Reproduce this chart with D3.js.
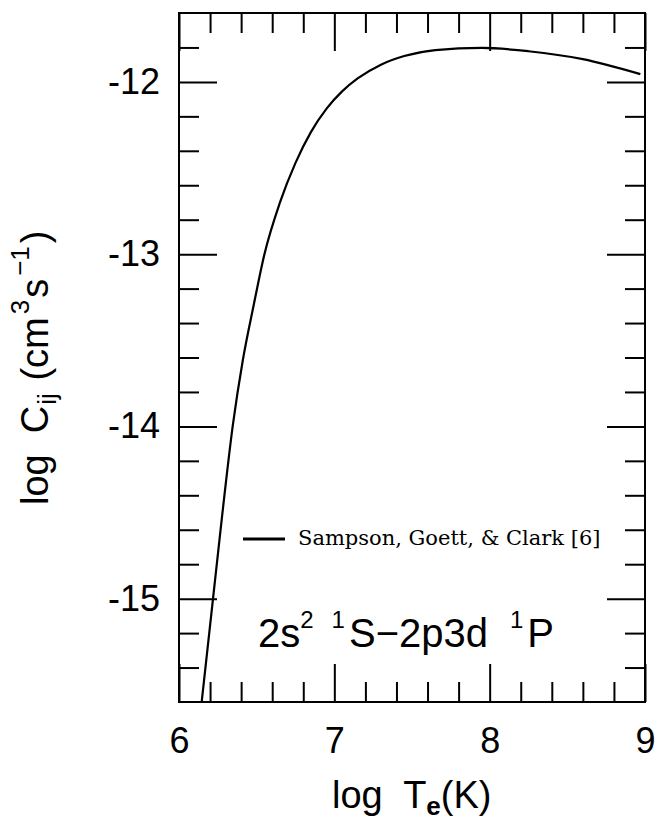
<!DOCTYPE html>
<html>
<head>
<meta charset="utf-8">
<script src="https://cdn.jsdelivr.net/npm/d3@7"></script>
<style>
  body { margin: 0; background: #fff; }
  .tick line { stroke: #000; stroke-width: 2; }
  .axis path.domain { display: none; }
  .ticklab text { font-family: "Liberation Sans", Arial, sans-serif; font-size: 36px; fill: #000; }
  .axislabel { font-family: "Liberation Sans", Arial, sans-serif; font-size: 38px; fill: #000; white-space: pre; }
  .legend_text { font-family: "DejaVu Serif", serif; font-size: 21px; fill: #000; }
</style>
</head>
<body>
<div id="chart"></div>
<script>
// log T_e (K) and log C_ij
var logT = [6.146, 6.219, 6.275, 6.347, 6.41, 6.48, 6.55, 6.65, 6.75, 6.85, 6.95, 7.05, 7.15, 7.3, 7.45, 7.65, 7.95, 8.25, 8.6, 8.97];
var logC = [-15.6, -15.0, -14.54, -13.99, -13.62, -13.30, -13.0, -12.70, -12.47, -12.29, -12.155, -12.055, -11.98, -11.90, -11.85, -11.815, -11.803, -11.822, -11.868, -11.955];

var xMajor = [6, 7, 8, 9];
var xMinor = [6.2, 6.4, 6.6, 6.8, 7.2, 7.4, 7.6, 7.8, 8.2, 8.4, 8.6, 8.8];
var yMajor = [-15, -14, -13, -12];
var yMinor = [-15.4, -15.2, -14.8, -14.6, -14.4, -14.2, -13.8, -13.6, -13.4, -13.2, -12.8, -12.6, -12.4, -12.2, -11.8];

var seriesName = "Sampson, Goett, & Clark [6]";

var draw = function(){
	var svg = d3.select("#chart").append("svg").attr("width", 658).attr("height", 824);
	svg.append("rect").attr("width", 658).attr("height", 824).attr("fill", "white");

	var x = d3.scaleLinear().domain([6, 9]).range([179, 645]);
	var y = d3.scaleLinear().domain([-15.6, -11.6]).range([702, 13]);

	var data = logT.map(function(t, i){ return [t, logC[i]]; });

	// inward ticks on all four sides: long for majors, short for minors
	var sides = [
		{ax: d3.axisBottom, sc: x, t: "translate(0,702)", maj: xMajor, mnr: xMinor},
		{ax: d3.axisTop, sc: x, t: "translate(0,13)", maj: xMajor, mnr: xMinor},
		{ax: d3.axisLeft, sc: y, t: "translate(179,0)", maj: yMajor, mnr: yMinor},
		{ax: d3.axisRight, sc: y, t: "translate(645,0)", maj: yMajor, mnr: yMinor}
	];
	sides.forEach(function(s){
		svg.append("g").attr("class", "axis").attr("transform", s.t)
			.call(s.ax(s.sc).tickValues(s.maj).tickSize(-38).tickFormat(""));
		svg.append("g").attr("class", "axis").attr("transform", s.t)
			.call(s.ax(s.sc).tickValues(s.mnr).tickSize(-20).tickFormat(""));
	});

	// tick labels
	svg.append("g").attr("class", "axis ticklab").attr("transform", "translate(0,702)")
		.call(d3.axisBottom(x).tickValues(xMajor).tickSize(0).tickPadding(25).tickFormat(d3.format("d")));
	svg.append("g").attr("class", "axis ticklab").attr("transform", "translate(179,0)")
		.call(d3.axisLeft(y).tickValues(yMajor).tickSize(0).tickPadding(19).tickFormat(function(d){ return "-" + Math.abs(d); }));

	// frame
	svg.append("rect").attr("x", 179).attr("y", 13).attr("width", 645 - 179).attr("height", 702 - 13)
		.attr("fill", "none").attr("stroke", "#000").attr("stroke-width", 2);

	var line = d3.line()
		.curve(d3.curveMonotoneX)
		.x(function(d){ return x(d[0]); })
		.y(function(d){ return y(d[1]); });

	svg.append("path").datum(data)
		.attr("fill", "none").attr("stroke", "#000").attr("stroke-width", 2.2)
		.attr("stroke-linejoin", "round").attr("d", line);

	// legend
	svg.append("line").attr("x1", 243).attr("x2", 285).attr("y1", 539).attr("y2", 539)
		.attr("stroke", "#000").attr("stroke-width", 3);
	svg.append("text").attr("class", "legend_text").attr("x", 298).attr("y", 545).text(seriesName);

	// transition label
	var tl = svg.append("text").attr("class", "axislabel").attr("x", 258).attr("y", 647)
		.style("font-size", "40px");
	tl.append("tspan").text("2s");
	tl.append("tspan").attr("dy", -19).style("font-size", "24px").text("2");
	tl.append("tspan").attr("dx", 18).style("font-size", "24px").text("1");
	tl.append("tspan").attr("dy", 19).attr("dx", 4).text("S\u22122p3d");
	tl.append("tspan").attr("dy", -19).attr("dx", 22).style("font-size", "24px").text("1");
	tl.append("tspan").attr("dy", 19).attr("dx", 4).text("P");

	// x axis title
	var xt = svg.append("text").attr("class", "axislabel").attr("x", 332).attr("y", 808);
	xt.append("tspan").text("log  T");
	xt.append("tspan").attr("dy", 7).style("font-size", "26px").attr("font-weight", "bold").text("e");
	xt.append("tspan").attr("dy", -7).text("(K)");

	// y axis title
	var yt = svg.append("text").attr("class", "axislabel").attr("transform", "translate(48,505) rotate(-90)");
	yt.append("tspan").text("log  C");
	yt.append("tspan").attr("dy", 8).attr("dx", 1).style("font-size", "26px").text("ij");
	yt.append("tspan").attr("dy", -8).attr("dx", 2).text(" (cm");
	yt.append("tspan").attr("dy", -19).attr("dx", 3).style("font-size", "26px").text("3");
	yt.append("tspan").attr("dy", 19).attr("dx", 2).text("s");
	yt.append("tspan").attr("dy", -19).attr("dx", 3).style("font-size", "26px").text("\u22121");
	yt.append("tspan").attr("dy", 19).attr("dx", 3).text(")");
};

window.onload = function(){
	draw();
};
</script>
</body>
</html>
